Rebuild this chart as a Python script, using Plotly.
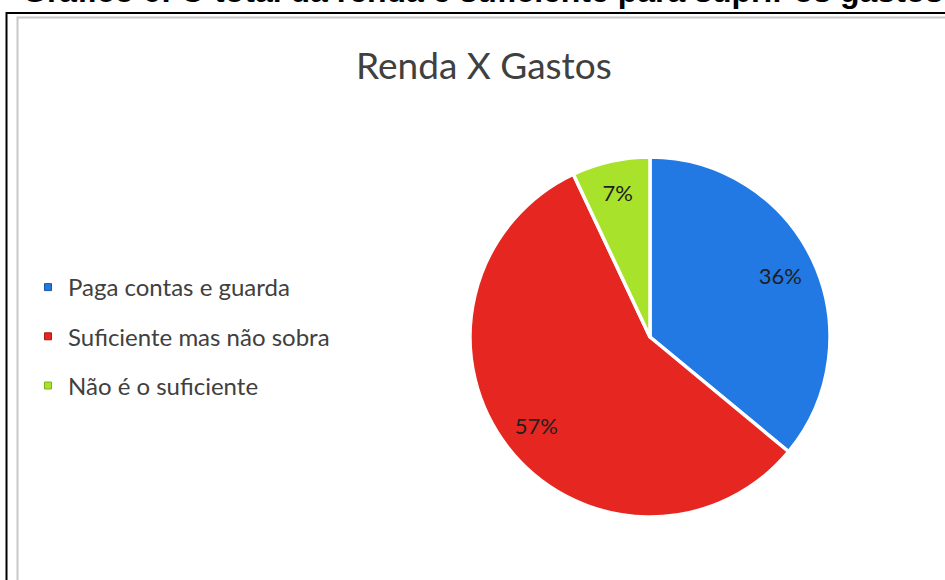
import plotly.graph_objects as go

categories = ["Paga contas e guarda", "Suficiente mas não sobra", "Não é o suficiente"]
values = [36, 57, 7]
colors = ["#2379E3", "#E62621", "#A8E22B"]
legend_edge = ["#1B55A8", "#A81A18", "#7FAE1E"]
chart_title = "Renda X Gastos"
doc_caption = "Gráfico 6: O total da renda é suficiente para suprir os gastos"

W, H = 945, 580
def px(x): return x / W
def py(y): return 1 - y / H

fig = go.Figure()

# main pie
fig.add_trace(go.Pie(
    labels=categories, values=values, sort=False, direction="clockwise", rotation=0,
    marker=dict(colors=colors, line=dict(color="white", width=3.5)),
    textinfo="none", hoverinfo="label+percent", showlegend=False,
    domain=dict(x=[px(470), px(830)], y=[py(517), py(157)]),
))
# transparent ring carrying the percentage labels (places them toward the rim)
fig.add_trace(go.Pie(
    labels=categories, values=values, sort=False, direction="clockwise", rotation=0,
    hole=0.6,
    marker=dict(colors=["rgba(0,0,0,0)"] * 3, line=dict(width=0)),
    texttemplate="%{percent:.0%}", textposition="inside", insidetextorientation="horizontal",
    textfont=dict(family="Lato, sans-serif", size=22, color="#1E1E1E"),
    hoverinfo="skip", showlegend=False,
    domain=dict(x=[px(470), px(830)], y=[py(517), py(157)]),
))

# legend entries
for name, c, e in zip(categories, colors, legend_edge):
    fig.add_trace(go.Scatter(
        x=[None], y=[None], mode="markers", name=name, legendgroup=name,
        marker=dict(symbol="square", size=7, color=c, line=dict(color=e, width=1)),
    ))

fig.update_xaxes(visible=False)
fig.update_yaxes(visible=False)

fig.update_layout(
    width=W, height=H,
    margin=dict(l=0, r=0, t=0, b=0),
    paper_bgcolor="white", plot_bgcolor="white",
    showlegend=True,
    legend=dict(
        x=px(28), y=py(265), xanchor="left", yanchor="top",
        font=dict(family="Lato, sans-serif", size=24, color="#404040"),
        itemwidth=30, tracegroupgap=15, bgcolor="rgba(0,0,0,0)",
    ),
    annotations=[
        dict(text=chart_title, x=px(484), y=py(64), xref="paper", yref="paper",
             xanchor="center", yanchor="middle", showarrow=False,
             font=dict(family="Lato, sans-serif", size=37, color="#404040")),
        dict(text="<b>" + doc_caption + "</b>", x=px(20), y=py(11), xref="paper", yref="paper",
             xanchor="left", yanchor="bottom", showarrow=False,
             font=dict(family="Liberation Sans, Arial, sans-serif", size=32, color="black")),
    ],
    shapes=[
        dict(type="rect", xref="paper", yref="paper", x0=px(6.5), x1=px(1000), y0=py(700), y1=py(13),
             line=dict(color="black", width=2), fillcolor="rgba(0,0,0,0)", layer="above"),
        dict(type="rect", xref="paper", yref="paper", x0=px(17.5), x1=px(1000), y0=py(700), y1=py(17.5),
             line=dict(color="#C8C8C8", width=2), fillcolor="rgba(0,0,0,0)", layer="above"),
    ],
)

fig.write_html("out.html", config={"displayModeBar": False},
               post_script="document.body.style.margin='0';document.body.style.overflow='hidden';")
